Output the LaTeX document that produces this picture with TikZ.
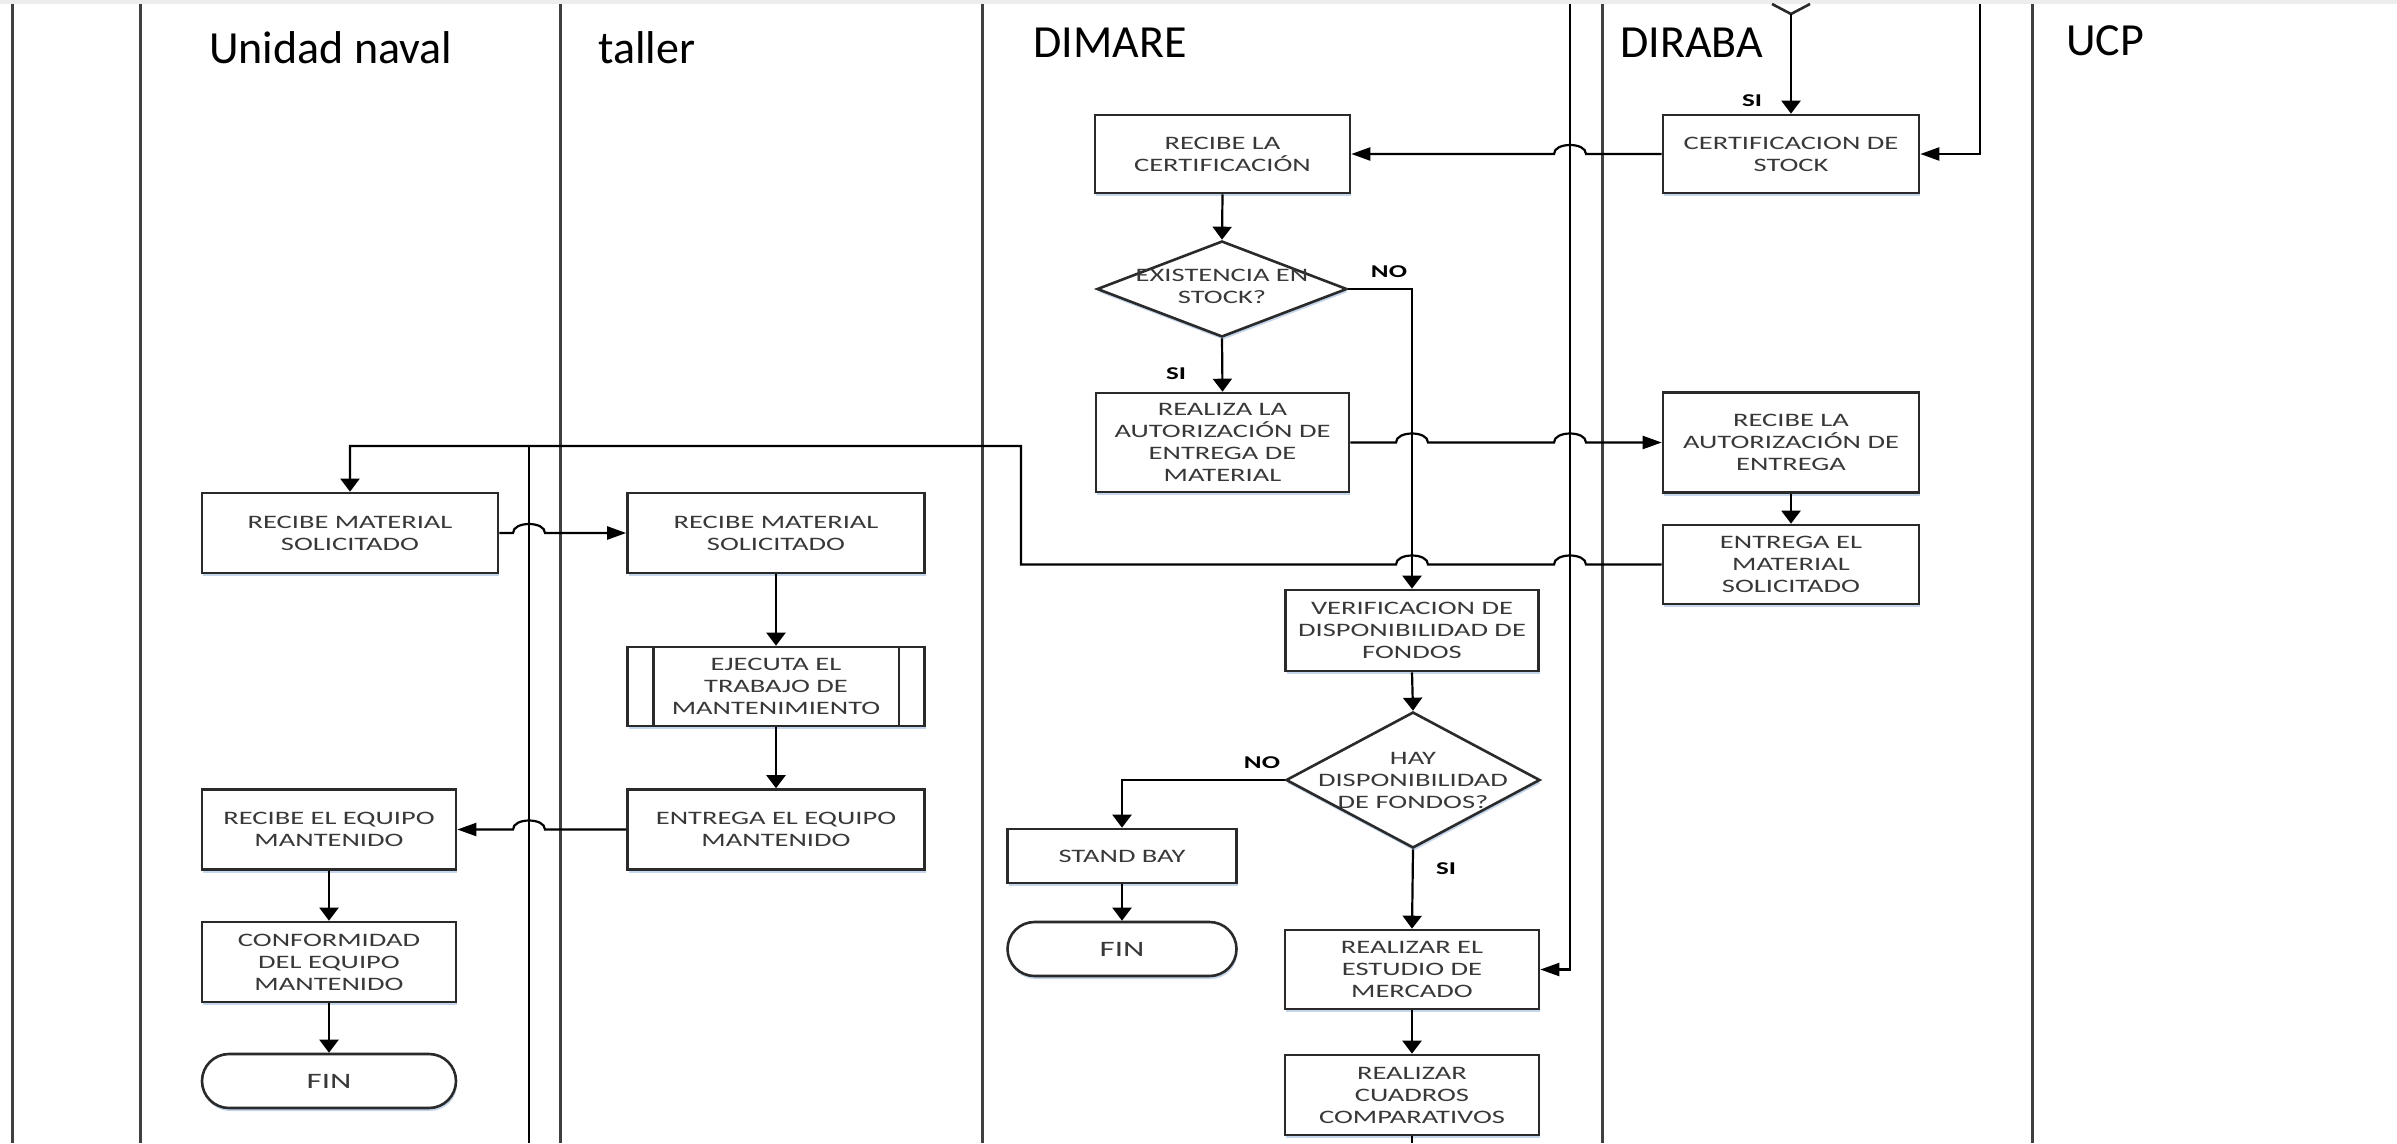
\documentclass[tikz,border=0pt]{standalone}
\usepackage{fontspec}
\setmainfont{Carlito}
\newfontfamily\boxfont[FakeStretch=1.5]{Carlito}
\usetikzlibrary{arrows.meta,shapes.geometric}
\definecolor{lanec}{HTML}{404040}
\definecolor{boxc}{HTML}{2A2A2A}
\definecolor{txtc}{HTML}{383838}
\definecolor{shadc}{HTML}{C4D6EC}
\begin{document}
\begin{tikzpicture}[x=1pt,y=-1pt,
  lane/.style={draw=lanec,line width=3pt},
  boxline/.style={draw=boxc,line width=2.6pt},
  boxbase/.style={boxline,fill=white,inner xsep=0pt,inner ysep=2pt,align=center,text=txtc,
    font=\boxfont\fontsize{19}{22}\selectfont,
    preaction={fill=shadc,transform canvas={xshift=1pt,yshift=-3pt}}},
  box/.style={boxbase,rectangle},
  term/.style={boxbase,rectangle,rounded corners=27pt,font=\boxfont\fontsize{22}{24}\selectfont},
  dia/.style={boxbase,diamond,inner sep=0pt},
  txt/.style={align=center,text=txtc,inner sep=0pt,font=\boxfont\fontsize{19}{22}\selectfont},
  lbl/.style={inner sep=0pt,text=black,font=\boxfont\bfseries\fontsize{18}{20}\selectfont},
  head/.style={anchor=base west,inner sep=0pt,font=\fontsize{46}{50}\selectfont},
  conn/.style={draw=black,line width=2.2pt},
  arrV/.style={conn,-{Triangle[length=13pt,width=19pt]}},
  arrH/.style={conn,-{Triangle[length=19pt,width=13pt]}}
]
\useasboundingbox (0,0) rectangle (2397,1143);
\fill[white] (0,0) rectangle (2397,1143);
\fill[black!7] (0,0) rectangle (2397,4);

% lanes
\foreach \lx in {12,140,560,982,1602,2032}{
  \draw[lane] (\lx,4) -- (\lx,1143);
}

% headers
\node[head] (hUN) at (209,63) {Unidad naval};
\node[head] (hTA) at (598,63) {taller};
\node[head] (hDM) at (1033,57) {DIMARE};
\node[head] (hDR) at (1620,57) {DIRABA};
\node[head] (hUC) at (2066,55) {UCP};

% Unidad naval
\node[box,minimum width=296pt,minimum height=80pt] (un1) at (350,533) {RECIBE MATERIAL\\SOLICITADO};
\node[box,minimum width=254pt,minimum height=80pt] (un2) at (329,829.5) {RECIBE EL EQUIPO\\MANTENIDO};
\node[box,minimum width=254pt,minimum height=80pt] (un3) at (329,962) {CONFORMIDAD\\DEL EQUIPO\\MANTENIDO};
\node[term,minimum width=254pt,minimum height=54pt] (un4) at (329,1081) {FIN};

% taller
\node[box,minimum width=297pt,minimum height=80pt] (t1) at (776,533) {RECIBE MATERIAL\\SOLICITADO};
\node[box,minimum width=297pt,minimum height=79pt] (t2) at (776,686.5) {EJECUTA EL\\TRABAJO DE\\MANTENIMIENTO};
\draw[boxline] ([xshift=27pt]t2.north west) -- ([xshift=27pt]t2.south west);
\draw[boxline] ([xshift=-27pt]t2.north east) -- ([xshift=-27pt]t2.south east);
\node[box,minimum width=297pt,minimum height=80pt] (t3) at (776,829.5) {ENTREGA EL EQUIPO\\MANTENIDO};

% DIMARE
\node[box,minimum width=255pt,minimum height=78pt] (d1) at (1222.5,154) {RECIBE LA\\CERTIFICACIÓN};
\node[dia,minimum width=250pt,minimum height=96pt] (d2) at (1222,289) {};
\node[txt] (d2t) at (1222,286) {EXISTENCIA EN\\STOCK?};
\node[box,minimum width=253pt,minimum height=99pt] (d3) at (1222.5,442.5) {REALIZA LA\\AUTORIZACIÓN DE\\ENTREGA DE\\MATERIAL};
\node[box,minimum width=253pt,minimum height=81pt] (d4) at (1412,630.5) {VERIFICACION DE\\DISPONIBILIDAD DE\\FONDOS};
\node[dia,minimum width=254pt,minimum height=136pt] (d5) at (1413,780) {};
\node[txt] (d5t) at (1413,780) {HAY\\DISPONIBILIDAD\\DE FONDOS?};
\node[box,minimum width=229pt,minimum height=54pt] (d6) at (1122,856) {STAND BAY};
\node[term,minimum width=229pt,minimum height=54pt] (d7) at (1122,949) {FIN};
\node[box,minimum width=254pt,minimum height=79pt] (d8) at (1412,969.5) {REALIZAR EL\\ESTUDIO DE\\MERCADO};
\node[box,minimum width=254pt,minimum height=80pt] (d9) at (1412,1095) {REALIZAR\\CUADROS\\COMPARATIVOS};

% DIRABA
\node[box,minimum width=256pt,minimum height=78pt] (r1) at (1791,154) {CERTIFICACION DE\\STOCK};
\node[box,minimum width=256pt,minimum height=100pt] (r2) at (1791,442.5) {RECIBE LA\\AUTORIZACIÓN DE\\ENTREGA};
\node[box,minimum width=256pt,minimum height=79pt] (r3) at (1791,564.5) {ENTREGA EL\\MATERIAL\\SOLICITADO};

% off-page coordinates
\coordinate (vL) at (1772,4);
\coordinate (vB) at (1791,14);
\coordinate (vR) at (1810,4);
\coordinate (top1570) at (1570,4);
\coordinate (top1980) at (1980,4);
\coordinate (br) at (529,446);
\coordinate (bot529) at (529,1143);
\coordinate (botd9) at (1412,1143);

% connectors
\draw[boxline] (vL) -- (vB) -- (vR);
\draw[arrV] (vB) -- (r1.north);
\draw[arrH] (top1980) |- (r1.east);
\draw[arrH] (r1.west) -- (1586,154) .. controls (1586,142) and (1554,142) .. (1554,154) -- (d1.east);
\draw[arrV] (d1.south) -- (d2.north);
\draw[arrV] (d2.south) -- (d3.north);
\draw[arrV] (d2.east) -| (d4.north);
\draw[arrH] (d3.east) -- (1396,442.5) .. controls (1396,430.5) and (1428,430.5) .. (1428,442.5)
  -- (1554,442.5) .. controls (1554,430.5) and (1586,430.5) .. (1586,442.5) -- (r2.west);
\draw[arrV] (r2.south) -- (r3.north);
\draw[arrV] (r3.west) -- (1586,564.5) .. controls (1586,552.5) and (1554,552.5) .. (1554,564.5)
  -- (1428,564.5) .. controls (1428,552.5) and (1396,552.5) .. (1396,564.5)
  -- (1021,564.5) -- (1021,446) -- (350,446) -- (un1.north);
\draw[conn] (br) -- (bot529);
\draw[arrH] (un1.east) -- (513,533) .. controls (513,521) and (545,521) .. (545,533) -- (t1.west);
\draw[arrV] (t1.south) -- (t2.north);
\draw[arrV] (t2.south) -- (t3.north);
\draw[arrH] (t3.west) -- (545,829.5) .. controls (545,817.5) and (513,817.5) .. (513,829.5) -- (un2.east);
\draw[arrV] (un2.south) -- (un3.north);
\draw[arrV] (un3.south) -- (un4.north);
\draw[arrV] (d4.south) -- (d5.north);
\draw[arrV] (d5.west) -| (d6.north);
\draw[arrV] (d6.south) -- (d7.north);
\draw[arrV] (d5.south) -- (d8.north);
\draw[arrH] (top1570) |- (d8.east);
\draw[arrV] (d8.south) -- (d9.north);
\draw[conn] (d9.south) -- (botd9);

% labels
\node[lbl] (siTop) at (1752,101) {SI};
\node[lbl] (siD2) at (1176,374) {SI};
\node[lbl] (noD2) at (1389,272) {NO};
\node[lbl] (noD5) at (1262,763) {NO};
\node[lbl] (siD5) at (1446,869) {SI};
\end{tikzpicture}
\end{document}
